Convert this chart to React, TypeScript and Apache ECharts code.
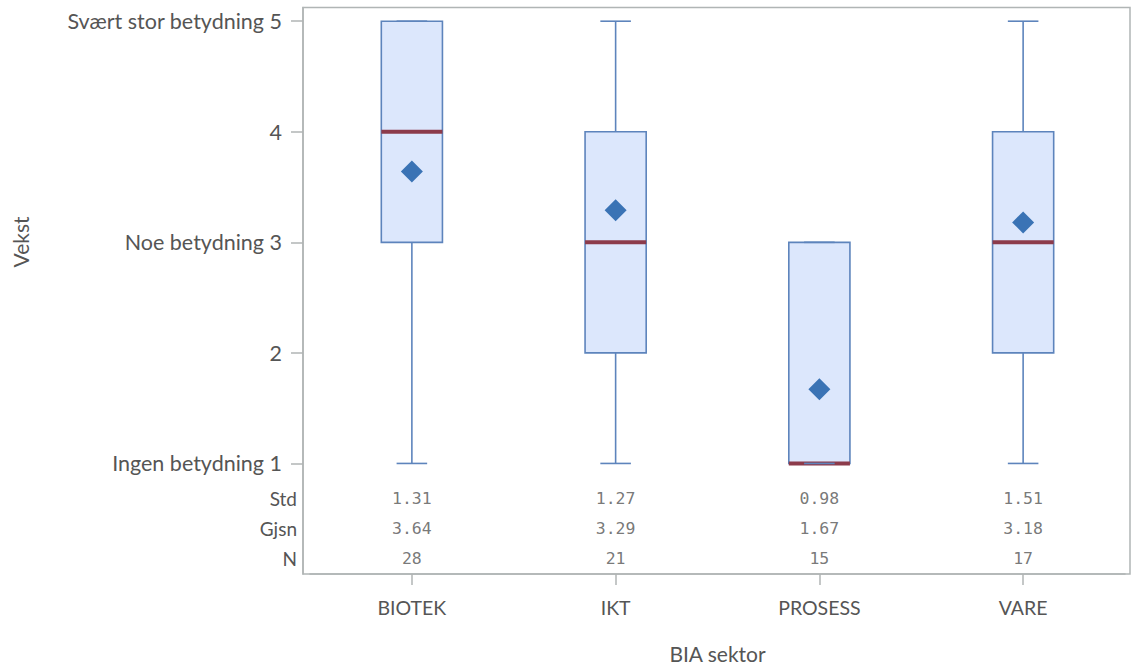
import React, { useEffect, useRef } from "react";
import * as echarts from "echarts";

const categories = ["BIOTEK", "IKT", "PROSESS", "VARE"];
// [min, Q1, median, Q3, max]
const boxValues = [
  [1, 3, 4, 5, 5],
  [1, 2, 3, 4, 5],
  [1, 1, 1, 3, 3],
  [1, 2, 3, 4, 5],
];
const meanValues = [3.64, 3.29, 1.67, 3.18];
const stdLabels = ["1.31", "1.27", "0.98", "1.51"];
const meanLabels = ["3.64", "3.29", "1.67", "3.18"];
const nLabels = ["28", "21", "15", "17"];
const yTickLabels: Record<number, string> = {
  1: "Ingen betydning 1",
  2: "2",
  3: "Noe betydning 3",
  4: "4",
  5: "Svært stor betydning 5",
};
const rowNames = ["Std", "Gjsn", "N"];
const rowPos = [0.684, 0.413, 0.142];

const FONT = "Lato";
const TXT = "#555555";
const FRAME = "#b0b5b5";
const BOX_STROKE = "#5d84bc";
const BOX_FILL = "#dce7fc";
const MEDIAN = "#8c3b4b";
const MEAN = "#3a73b5";

export default function App() {
  const ref = useRef<HTMLDivElement>(null);
  useEffect(() => {
    if (!ref.current) return;
    const chart = echarts.init(ref.current, null, { renderer: "svg" });
    const YMAX = 5.124;
    const tableRows = [stdLabels, meanLabels, nLabels];
    const tableSeries = tableRows.map((row, ri) => ({
      type: "scatter",
      symbolSize: 0,
      silent: true,
      data: row.map((v, i) => [i, rowPos[ri], v]),
      label: {
        show: true,
        position: "inside",
        formatter: (p: any) => p.data[2],
        fontFamily: "DejaVu Sans Mono",
        fontSize: 16.5,
        color: TXT,
      },
      z: 5,
    }));
    chart.setOption({
      animation: false,
      graphic: [
        {
          type: "rect",
          shape: { x: 303, y: 7.5, width: 827, height: 566.5 },
          style: { fill: "none", stroke: FRAME, lineWidth: 1.5 },
          silent: true,
          z: 0,
        },
        {
          type: "text",
          x: 20,
          y: 242,
          rotation: Math.PI / 2,
          style: {
            text: "Vekst",
            fontFamily: FONT,
            fontSize: 21,
            fill: TXT,
            align: "center",
            verticalAlign: "middle",
          },
        },
      ],
      grid: { left: 310, right: 6, top: 7.5, bottom: 94, outerBoundsMode: "none" },
      xAxis: {
        type: "category",
        data: categories,
        boundaryGap: true,
        axisLine: { show: true, lineStyle: { color: FRAME, width: 1.5 } },
        axisTick: { show: true, alignWithLabel: true, length: 11, lineStyle: { color: FRAME, width: 1.5 } },
        axisLabel: { color: TXT, fontFamily: FONT, fontSize: 19.5, margin: 23 },
        name: "BIA sektor",
        nameLocation: "middle",
        nameGap: 69,
        nameTextStyle: { color: TXT, fontFamily: FONT, fontSize: 21 },
        splitLine: { show: false },
      },
      yAxis: [
        {
          type: "value",
          min: 0,
          max: YMAX,
          offset: 7,
          axisLine: { show: true, lineStyle: { color: FRAME, width: 1.5 } },
          axisTick: {
            show: true,
            length: 12,
            customValues: [1, 2, 3, 4, 5],
            lineStyle: { color: FRAME, width: 1.5 },
          },
          axisLabel: {
            customValues: [1, 2, 3, 4, 5],
            formatter: (v: number) => yTickLabels[v] ?? "",
            color: TXT,
            fontFamily: FONT,
            fontSize: 21.5,
            margin: 21,
          },
          splitLine: { show: false },
        },
        {
          type: "value",
          position: "left",
          min: 0,
          max: YMAX,
          offset: 7,
          axisLine: { show: false },
          axisTick: { show: false },
          axisLabel: {
            customValues: rowPos,
            formatter: (v: number) => {
              const i = rowPos.findIndex((r) => Math.abs(r - v) < 1e-6);
              return i >= 0 ? rowNames[i] : "";
            },
            color: TXT,
            fontFamily: FONT,
            fontSize: 19,
            margin: 6,
          },
          splitLine: { show: false },
        },
      ],
      series: [
        {
          type: "custom",
          data: boxValues.map((b, i) => [i, ...b]),
          encode: { x: 0, y: [1, 2, 3, 4, 5] },
          renderItem: (params: any, api: any) => {
            const idx = api.value(0);
            const band = api.size([1, 0])[0];
            const bw = band * 0.3;
            const cw = band * 0.15;
            const pMin = api.coord([idx, api.value(1)]);
            const pQ1 = api.coord([idx, api.value(2)]);
            const pMed = api.coord([idx, api.value(3)]);
            const pQ3 = api.coord([idx, api.value(4)]);
            const pMax = api.coord([idx, api.value(5)]);
            const cx = pMed[0];
            const ls = { stroke: BOX_STROKE, lineWidth: 1.6 };
            return {
              type: "group",
              children: [
                { type: "line", shape: { x1: cx, y1: pQ3[1], x2: cx, y2: pMax[1] }, style: ls },
                { type: "line", shape: { x1: cx, y1: pQ1[1], x2: cx, y2: pMin[1] }, style: ls },
                {
                  type: "rect",
                  shape: { x: cx - bw / 2, y: pQ3[1], width: bw, height: pQ1[1] - pQ3[1] },
                  style: { fill: BOX_FILL, stroke: BOX_STROKE, lineWidth: 1.6 },
                },
                {
                  type: "line",
                  shape: { x1: cx - bw / 2, y1: pMed[1], x2: cx + bw / 2, y2: pMed[1] },
                  style: { stroke: MEDIAN, lineWidth: 4 },
                },
                { type: "line", shape: { x1: cx - cw / 2, y1: pMax[1], x2: cx + cw / 2, y2: pMax[1] }, style: ls },
                { type: "line", shape: { x1: cx - cw / 2, y1: pMin[1], x2: cx + cw / 2, y2: pMin[1] }, style: ls },
              ],
            };
          },
          z: 2,
        },
        {
          type: "scatter",
          data: meanValues.map((m, i) => [i, m]),
          symbol: "diamond",
          symbolSize: 22,
          itemStyle: { color: MEAN, opacity: 1 },
          z: 4,
        },
        ...tableSeries,
      ],
    });
    return () => chart.dispose();
  }, []);
  return (
    <div
      ref={ref}
      style={{ position: "absolute", left: 0, top: 0, width: 1131, height: 668, background: "#fff" }}
    />
  );
}
